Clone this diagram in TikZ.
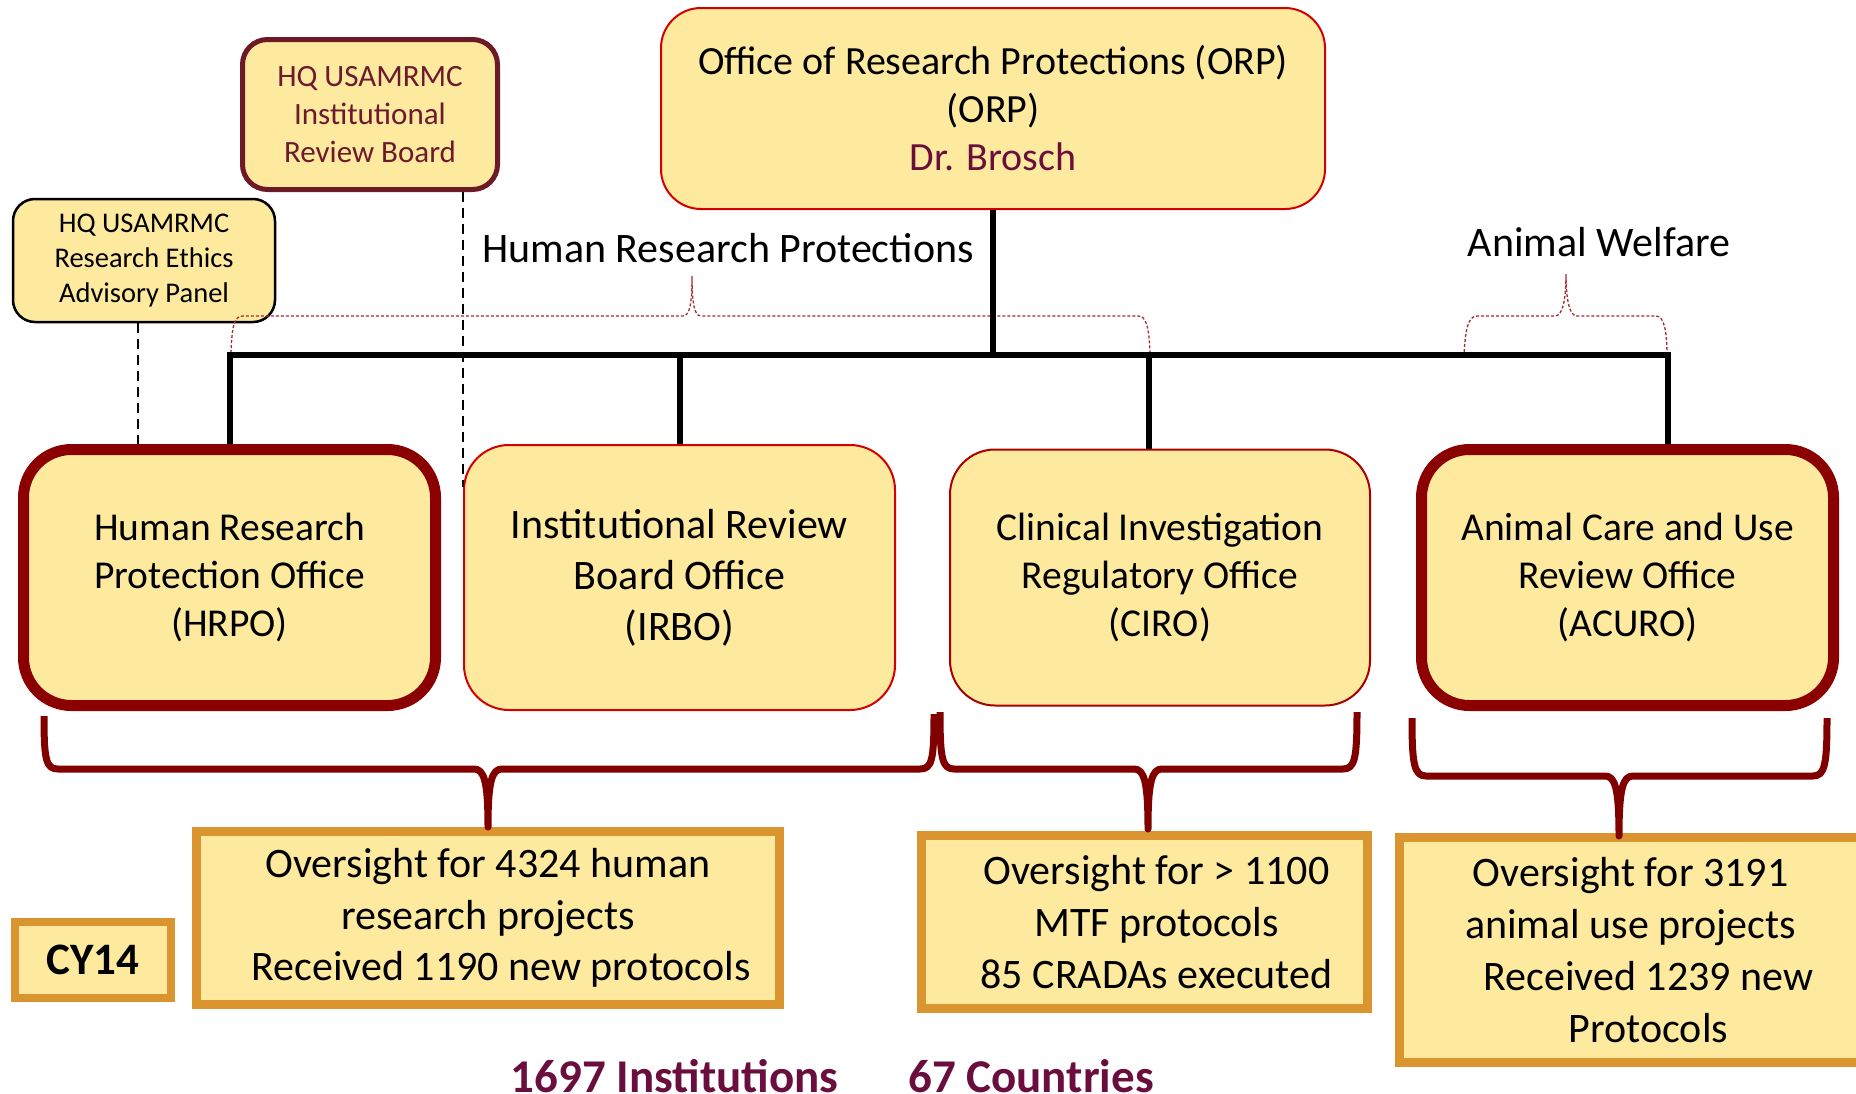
\documentclass[tikz,border=0pt]{standalone}
\usepackage{fontspec}
\setmainfont{Carlito}
\usetikzlibrary{positioning}
\definecolor{boxfill}{HTML}{FDEA9E}
\definecolor{unitred}{HTML}{D40000}
\definecolor{darkunit}{HTML}{8B0000}
\definecolor{irbline}{HTML}{6B1A26}
\definecolor{irbtext}{HTML}{6D1A2E}
\definecolor{plum}{HTML}{6A0F3D}
\definecolor{statline}{HTML}{DA9430}
\definecolor{bracered}{HTML}{800000}
\definecolor{dotred}{HTML}{A52A2A}
\tikzset{node distance=450pt}

\begin{document}
\begin{tikzpicture}[x=1pt,y=-1pt,
  unit/.style={draw=unitred,line width=2pt,fill=boxfill,rounded corners=45pt,align=center,inner sep=0pt},
  keyunit/.style={unit,draw=darkunit,line width=11pt,rounded corners=48pt},
  stats/.style={draw=statline,line width=9pt,fill=boxfill,align=center,inner sep=0pt},
  bus/.style={line width=6pt},
  hqlink/.style={line width=2pt,dash pattern=on 10pt off 6pt},
  curly/.style={draw=bracered,line width=7pt,line join=round},
  group/.style={draw=dotred,line width=1.3pt,dash pattern=on 3pt off 2pt}]
\useasboundingbox (0,0) rectangle (1856,1093);
\clip (0,0) rectangle (1856,1093);

% top of the chart
\node[unit,rounded corners=40pt,minimum width=664pt,minimum height=201pt,font=\fontsize{40}{48}\selectfont] (orp) at (993,108.5) {Office of Research Protections (ORP)\\(ORP)\\\textcolor{plum}{Dr. Brosch}};
\node[unit,draw=irbline,line width=5pt,rounded corners=25pt,minimum width=255pt,minimum height=150pt,text=irbtext,font=\fontsize{31}{38}\selectfont] (irb) at (370,114.5) {HQ USAMRMC\\Institutional\\Review Board};
\node[unit,draw=black,line width=2.5pt,rounded corners=22pt,minimum width=262pt,minimum height=123pt,font=\fontsize{28.5}{35}\selectfont] (reap) at (144,260.5) {HQ USAMRMC\\Research Ethics\\Advisory Panel};
\node[font=\fontsize{42}{51}\selectfont] (hrplabel) at (728,248) {Human Research Protections};
\node[font=\fontsize{42}{51}\selectfont] (awlabel) at (1599,242) {Animal Welfare};

% the four offices
\node[keyunit,minimum width=412pt,minimum height=256pt,font=\fontsize{39.5}{48}\selectfont] (hrpo) at (229.5,577.5) {Human Research\\Protection Office\\(HRPO)};
\node[unit,minimum width=431pt,minimum height=265pt,font=\fontsize{42}{51}\selectfont,right of=hrpo] (irbo) {Institutional Review\\Board Office\\(IRBO)};
\node[unit,draw=unitred!80!black,minimum width=420pt,minimum height=256pt,font=\fontsize{39.5}{48}\selectfont,right of=irbo,node distance=480.5pt] (ciro) {Clinical Investigation\\Regulatory Office\\(CIRO)};
\node[keyunit,minimum width=412pt,minimum height=256pt,font=\fontsize{39.5}{48}\selectfont,right of=ciro,node distance=467.5pt] (acuro) {Animal Care and Use\\Review Office\\(ACURO)};

% numbers
\node[stats,minimum width=583pt,minimum height=173pt,font=\fontsize{42}{51.5}\selectfont] (hrpstats) at (488,918) {Oversight for 4324 human\\research projects\\\hspace*{26pt}Received 1190 new protocols};
\node[stats,minimum width=446pt,minimum height=173pt,font=\fontsize{42}{52}\selectfont] (cirostats) at (1144.5,922) {\hspace*{24pt}Oversight for > 1100\\\hspace*{24pt}MTF protocols\\\hspace*{24pt}85 CRADAs executed};
\node[stats,minimum width=462pt,minimum height=225pt,font=\fontsize{42}{52}\selectfont] (acurostats) at (1630.5,950) {Oversight for 3191\\animal use projects\\\hspace*{36pt}Received 1239 new\\\hspace*{36pt}Protocols};
\node[stats,line width=8pt,minimum width=156pt,minimum height=76pt,font=\fontsize{45}{54}\selectfont\bfseries] (cy) at (93,960) {CY14};
\node[anchor=base,text=plum,font=\fontsize{47}{56}\selectfont\bfseries] (inst) at (674.5,1092) {1697 Institutions};
\node[anchor=base,text=plum,font=\fontsize{47}{56}\selectfont\bfseries] (ctry) at (1031,1092) {67 Countries};

% dotted groups
\draw[group] (231,353) .. controls (232,326) and (234,316) .. (243,316) -- (683,316) .. controls (690,316) and (692,302) .. (692,276) .. controls (692,302) and (694,316) .. (701,316) -- (1138,316) .. controls (1146,316) and (1149,326) .. (1150,353);
\draw[group] (1464,357) .. controls (1465,330) and (1468,316) .. (1477,316) -- (1555,316) .. controls (1562,316) and (1566,302) .. (1566,274) .. controls (1566,302) and (1570,316) .. (1577,316) -- (1656,316) .. controls (1664,316) and (1667,330) .. (1667,357);

% lines
\coordinate (busend) at (1668,355);
\coordinate (cirotap) at (1149,355);
\draw[bus] (hrpo.north) |- (busend) -- (busend |- acuro.north);
\draw[bus] (orp.south) -- (orp.south |- busend);
\draw[bus] (irbo.north) -- (irbo.north |- busend);
\draw[bus] (cirotap) -- (cirotap |- ciro.north);
\draw[hqlink] ([xshift=-6pt]reap.south) -- ([xshift=-6pt]reap.south |- hrpo.north);
\draw[hqlink] (irb.south -| irbo.west) -- ([yshift=-43pt]irbo.north west);

% braces
\draw[curly] (44,716) .. controls (44,760) and (46,769) .. (58,769) -- (474,769) .. controls (484,769) and (488,781) .. (488,827) .. controls (488,781) and (492,769) .. (502,769) -- (920,769) .. controls (932,769) and (934,760) .. (934,714);
\draw[curly] (940,712) .. controls (940,758) and (942,769) .. (954,769) -- (1134,769) .. controls (1144,769) and (1148,781) .. (1148,829) .. controls (1148,781) and (1152,769) .. (1162,769) -- (1343,769) .. controls (1355,769) and (1357,758) .. (1357,712);
\draw[curly] (1412,718) .. controls (1412,764) and (1414,776) .. (1426,776) -- (1605,776) .. controls (1615,776) and (1619,788) .. (1619,836) .. controls (1619,788) and (1623,776) .. (1633,776) -- (1813,776) .. controls (1825,776) and (1827,764) .. (1827,718);
\end{tikzpicture}
\end{document}
